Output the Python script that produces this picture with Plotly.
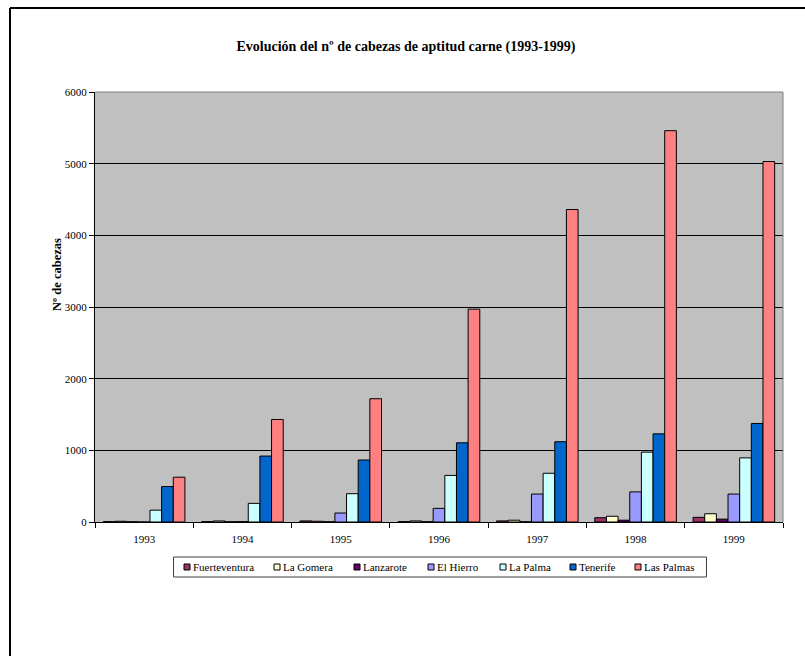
import plotly.graph_objects as go

# Cabezas de ganado de aptitud carne por isla, 1993-1999
years = ["1993", "1994", "1995", "1996", "1997", "1998", "1999"]

fuerteventura = [5, 5, 15, 5, 15, 60, 65]
la_gomera = [10, 15, 10, 15, 25, 80, 115]
lanzarote = [3, 3, 3, 3, 3, 25, 40]
el_hierro = [0, 5, 125, 190, 390, 420, 390]
la_palma = [165, 260, 395, 650, 680, 975, 895]
tenerife = [495, 920, 865, 1105, 1120, 1230, 1375]
las_palmas = [625, 1430, 1720, 2970, 4360, 5460, 5030]

islands = ["Fuerteventura", "La Gomera", "Lanzarote", "El Hierro",
           "La Palma", "Tenerife", "Las Palmas"]
values = [fuerteventura, la_gomera, lanzarote, el_hierro,
          la_palma, tenerife, las_palmas]
colors = ["#993366", "#FFFFCC", "#660066", "#9999FF",
          "#CCFFFF", "#0066CC", "#FF8080"]

FONT = "Liberation Serif"

fig = go.Figure()
for name, vals, color in zip(islands, values, colors):
    fig.add_trace(go.Bar(
        name=name, x=years, y=vals, showlegend=False,
        marker=dict(color=color, line=dict(color="black", width=1)),
    ))

W, H = 805, 656
ml, mr, mt, mb = 95, 22, 92, 134
pw, ph = W - ml - mr, H - mt - mb


def px_x(px):
    return (px - ml) / pw


def px_y(py):
    return (H - mb - py) / ph


shapes = [
    # plot-area frame (top and right edges)
    dict(type="line", xref="paper", yref="paper", x0=0, x1=1, y0=1, y1=1,
         line=dict(color="#808080", width=1)),
    dict(type="line", xref="paper", yref="paper", x0=1, x1=1, y0=0, y1=1,
         line=dict(color="#808080", width=1)),
    # page frame
    dict(type="line", xref="paper", yref="paper", x0=px_x(10), x1=px_x(820),
         y0=px_y(8), y1=px_y(8), line=dict(color="black", width=2)),
    dict(type="line", xref="paper", yref="paper", x0=px_x(10), x1=px_x(10),
         y0=px_y(8), y1=px_y(670), line=dict(color="black", width=2)),
]

annotations = [
    # value-axis title
    dict(text="<b>Nº de cabezas</b>", xref="paper", yref="paper",
         x=px_x(57), y=px_y(275), xanchor="center", yanchor="middle",
         textangle=-90, showarrow=False,
         font=dict(family=FONT, size=12.5, color="black")),
]

# legend box with one swatch + label per island
leg_top, leg_bot = 557, 577
leg_mid = (leg_top + leg_bot) / 2
swatch_x = [184, 274, 354, 428, 500, 570, 635]
sw = 6
shapes.append(dict(type="rect", xref="paper", yref="paper",
                   x0=px_x(173.5), x1=px_x(706.5), y0=px_y(leg_bot), y1=px_y(leg_top),
                   line=dict(color="#404040", width=1), fillcolor="white"))
for name, color, sx in zip(islands, colors, swatch_x):
    shapes.append(dict(type="rect", xref="paper", yref="paper",
                       x0=px_x(sx), x1=px_x(sx + sw),
                       y0=px_y(leg_mid + sw / 2), y1=px_y(leg_mid - sw / 2),
                       line=dict(color="black", width=1), fillcolor=color))
    annotations.append(dict(text=name, xref="paper", yref="paper",
                            x=px_x(sx + sw + 1), y=px_y(leg_mid),
                            xanchor="left", yanchor="middle", showarrow=False,
                            font=dict(family=FONT, size=11, color="black")))

fig.update_layout(
    width=W, height=H,
    margin=dict(l=ml, r=mr, t=mt, b=mb),
    paper_bgcolor="white",
    plot_bgcolor="#C0C0C0",
    barmode="group",
    bargap=0.17,
    bargroupgap=0,
    font=dict(family=FONT, size=11, color="black"),
    title=dict(
        text="<b>Evolución del nº de cabezas de aptitud carne (1993-1999)</b>",
        x=px_x(406), xanchor="center", xref="paper",
        y=1 - 46 / H, yanchor="middle",
        font=dict(family=FONT, size=14, color="black"),
    ),
    xaxis=dict(
        showgrid=False, showline=True, linecolor="black", linewidth=1,
        ticks="outside", tickson="boundaries", ticklen=5, tickcolor="black",
        ticklabelstandoff=7,
        tickfont=dict(family=FONT, size=11),
    ),
    yaxis=dict(
        range=[0, 6000], dtick=1000, showgrid=True, gridcolor="black", gridwidth=1,
        showline=True, linecolor="black", linewidth=1, zeroline=False,
        ticks="outside", ticklen=5, tickcolor="black",
        tickfont=dict(family=FONT, size=11),
    ),
    shapes=shapes,
    annotations=annotations,
    showlegend=False,
)

fig.write_html("out.html")
